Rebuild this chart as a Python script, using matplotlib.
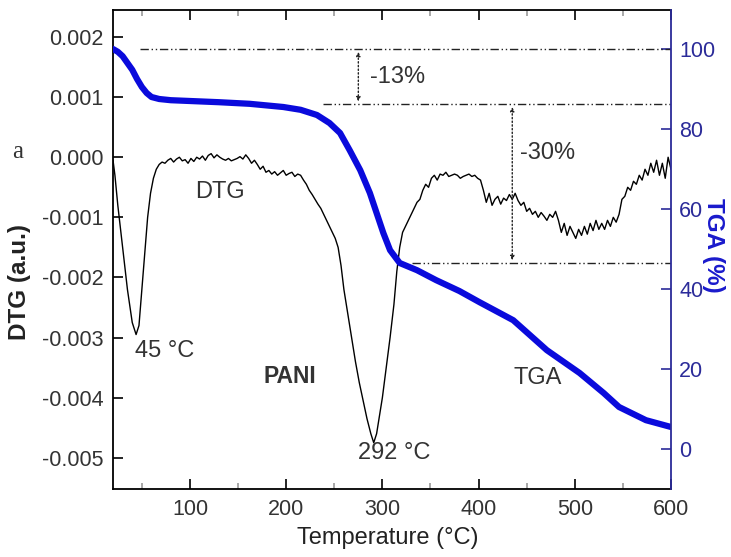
import matplotlib
matplotlib.use('Agg')
from matplotlib import pyplot as plt
import numpy as np

plt.rcParams['font.family'] = ['Liberation Sans', 'DejaVu Sans']

# DTG curve (x1e-3 a.u.)
dtg_t = [20, 22, 25, 30, 35, 40, 44, 47, 50, 53, 56, 59, 62, 65, 68, 71, 74, 77, 80, 83,
         86, 89, 92, 95, 98, 101, 104, 107, 110, 113, 116, 119, 122, 125, 128, 131, 134,
         137, 140, 143, 146, 149, 152, 155, 158, 161, 164, 167, 170, 173, 176, 179, 182,
         185, 188, 191, 194, 197, 200, 203, 206, 209, 212, 215, 218, 221, 224, 227, 230,
         233, 236, 239, 242, 245, 248, 251, 254, 257, 260, 264, 268, 272, 276, 280, 284,
         288, 291, 294, 297, 300, 304, 308, 312, 315, 318, 321, 324, 327, 330, 333, 336,
         339, 342, 345, 348, 351, 354, 357, 360, 363, 366, 369, 372, 375, 378, 381, 384,
         387, 390, 393, 396, 399, 402, 405, 408, 411, 414, 417, 420, 423, 426, 429, 432,
         435, 438, 441, 444, 447, 450, 453, 456, 459, 462, 465, 468, 471, 474, 477, 480,
         483, 486, 489, 492, 495, 498, 501, 504, 507, 510, 513, 516, 519, 522, 525, 528,
         531, 534, 537, 540, 543, 546, 549, 552, 555, 558, 561, 564, 567, 570, 573, 576,
         579, 582, 585, 588, 591, 594, 597, 600]
dtg_v = [-0.05, -0.3, -0.8, -1.5, -2.2, -2.75, -2.95, -2.8, -2.2, -1.6, -1.0, -0.6, -0.35,
         -0.2, -0.12, -0.08, -0.1, -0.05, -0.02, -0.08, -0.03, 0.0, -0.06, -0.04, -0.1,
         -0.02, -0.07, 0.0, -0.03, 0.02, -0.05, 0.03, 0.06, -0.01, 0.04, 0.0, -0.03, -0.05,
         -0.02, -0.06, -0.04, -0.02, 0.01, -0.03, 0.04, -0.02, -0.1, -0.05, -0.12, -0.2,
         -0.15, -0.25, -0.22, -0.28, -0.24, -0.3, -0.26, -0.22, -0.3, -0.27, -0.25, -0.32,
         -0.28, -0.3, -0.38, -0.45, -0.55, -0.62, -0.7, -0.78, -0.85, -0.95, -1.05, -1.15,
         -1.25, -1.35, -1.5, -1.8, -2.2, -2.6, -3.0, -3.4, -3.75, -4.05, -4.35, -4.6, -4.75,
         -4.6, -4.3, -4.0, -3.5, -3.0, -2.45, -1.9, -1.5, -1.25, -1.15, -1.05, -0.95, -0.85,
         -0.75, -0.7, -0.55, -0.45, -0.5, -0.35, -0.3, -0.38, -0.28, -0.3, -0.25, -0.32,
         -0.3, -0.28, -0.3, -0.35, -0.32, -0.3, -0.28, -0.32, -0.3, -0.35, -0.38, -0.55,
         -0.75, -0.6, -0.8, -0.7, -0.65, -0.78, -0.68, -0.72, -0.62, -0.7, -0.6, -0.72,
         -0.8, -0.75, -0.9, -0.85, -0.95, -0.9, -1.0, -0.92, -0.98, -1.05, -0.95, -1.0,
         -0.9, -1.05, -1.25, -1.1, -1.3, -1.15, -1.25, -1.35, -1.2, -1.3, -1.15, -1.28,
         -1.1, -1.22, -1.05, -1.2, -1.1, -1.2, -1.05, -1.15, -1.0, -1.08, -0.95, -0.7,
         -0.65, -0.5, -0.55, -0.4, -0.45, -0.3, -0.38, -0.2, -0.3, -0.1, -0.25, -0.05,
         -0.3, -0.1, -0.35, 0.0, -0.2]

# TGA curve (%)
tga_t = [20, 25, 30, 35, 40, 45, 50, 55, 60, 68, 80, 100, 130, 162, 197, 215, 232, 245,
         256, 266, 277, 287, 294, 301, 308, 318, 336, 356, 380, 401, 436, 471, 505, 530,
         546, 574, 600]
tga_v = [100, 99.3, 98.2, 96.5, 94.8, 92.5, 90.5, 89, 88, 87.5, 87.2, 87.0, 86.7, 86.3,
         85.5, 84.8, 83.5, 81.5, 79, 74.7, 69.7, 64, 59, 54, 49.7, 46.5, 44.7, 42.2, 39.5,
         36.7, 32.2, 24.7, 19, 14, 10.5, 7.2, 5.5]

# mass loss guide levels (%)
levels = [100, 86.2, 46.5]
level_start = [48, 238, 331]
step_t = [275, 435]
step_lbl = ['-13%', '-30%']

fig = plt.figure(figsize=(7.31, 5.57), dpi=100)
W, H = 731, 557
ax = fig.add_axes([113 / W, (H - 489) / H, (671 - 113) / W, (489 - 10) / H])
ax2 = ax.twinx()

ax.plot(dtg_t, np.array(dtg_v) * 1e-3, color='black', lw=1.0)
ax.set_xlim(20, 600)
ax.set_ylim(-0.00552, 0.00245)
ax.set_yticks([0.002, 0.001, 0.0, -0.001, -0.002, -0.003, -0.004, -0.005])
ax.set_yticklabels(['0.002', '0.001', '0.000', '-0.001', '-0.002', '-0.003', '-0.004', '-0.005'])
ax.set_xticks([100, 200, 300, 400, 500, 600])
ax.set_xticks([50, 150, 250, 350, 450, 550], minor=True)
ax.tick_params(axis='both', which='both', direction='in', top=True, labelsize=15.5,
               labelcolor='#333333', width=1.2, pad=7)
ax.tick_params(which='major', length=7)
ax.tick_params(which='minor', length=4, color='#999999')
ax.tick_params(axis='y', which='minor', left=False)
for s in ['left', 'bottom', 'top']:
    ax.spines[s].set_linewidth(1.3)
ax.spines['right'].set_visible(False)

ax2.plot(tga_t, tga_v, color='#0a0adc', lw=4.5, solid_capstyle='round')
ax2.set_ylim(-10, 109.75)
ax2.set_yticks([0, 20, 40, 60, 80, 100])
ax2.tick_params(axis='y', direction='in', length=7, width=1.2, colors='#2b2b99',
                labelsize=15.5, pad=6)
ax2.spines['right'].set_color('#2b2b99')
ax2.spines['right'].set_linewidth(1.3)
for s in ['left', 'bottom', 'top']:
    ax2.spines[s].set_visible(False)

# guide lines
for lv, t0 in zip(levels, level_start):
    ax2.plot([t0, 600], [lv, lv], color='#222222', lw=1.0, dashes=(6, 2, 1, 2, 1, 2))
ax2.annotate('', xy=(step_t[0], levels[0]), xytext=(step_t[0], levels[1]),
             arrowprops=dict(arrowstyle='<|-|>', linestyle=':', color='#222222',
                             lw=1.0, mutation_scale=6))
ax2.annotate('', xy=(step_t[1], levels[1]), xytext=(step_t[1], levels[2]),
             arrowprops=dict(arrowstyle='<|-|>', linestyle=':', color='#222222',
                             lw=1.0, mutation_scale=6))
ax2.text(287, 93, step_lbl[0], fontsize=17, color='#333333', va='center', ha='left')
ax2.text(443, 74, step_lbl[1], fontsize=17, color='#333333', va='center', ha='left')

# annotations
ax.text(131, -0.00057, 'DTG', fontsize=17, color='#333333', ha='center', va='center')
ax.text(43, -0.00323, '45 °C', fontsize=17, color='#333333', ha='left', va='center')
ax.text(275, -0.00492, '292 °C', fontsize=17, color='#333333', ha='left', va='center')
ax.text(204, -0.00365, 'PANI', fontsize=16.5, color='#333333', ha='center', va='center',
        fontweight='bold')
ax.text(461, -0.00367, 'TGA', fontsize=17, color='#333333', ha='center', va='center')

fig.text(18 / W, 1 - 152 / H, 'a', fontsize=18, family='Liberation Serif',
         ha='center', va='center', color='#333333')
fig.text(20 / W, 1 - 282 / H, 'DTG (a.u.)', fontsize=17.5, fontweight='bold',
         rotation=90, ha='center', va='center', color='#222222')
fig.text(388 / W, 1 - 538 / H, 'Temperature (°C)', fontsize=17, ha='center',
         va='center', color='#222222')
fig.text(714 / W, 1 - 245 / H, 'TGA (%)', fontsize=17.5, fontweight='bold',
         rotation=270, ha='center', va='center', color='#1a1acc')

fig.savefig('out.png', dpi=100)
